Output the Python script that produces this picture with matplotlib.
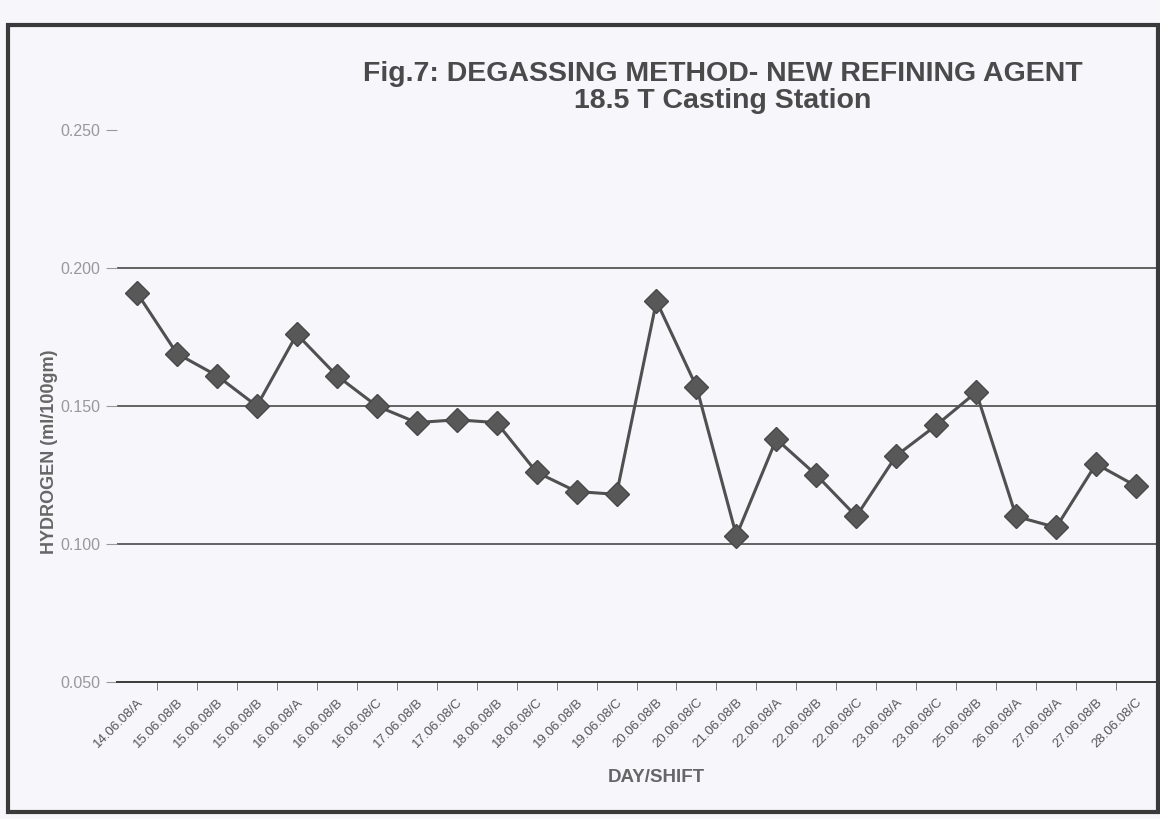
import matplotlib
matplotlib.use("Agg")
import matplotlib.pyplot as plt
from matplotlib.patches import Rectangle
from matplotlib.ticker import FixedLocator

plt.rcParams['font.family'] = ['Liberation Sans', 'DejaVu Sans']

categories = ["14.06.08/A", "15.06.08/B", "15.06.08/B", "15.06.08/B", "16.06.08/A",
              "16.06.08/B", "16.06.08/C", "17.06.08/B", "17.06.08/C", "18.06.08/B",
              "18.06.08/C", "19.06.08/B", "19.06.08/C", "20.06.08/B", "20.06.08/C",
              "21.06.08/B", "22.06.08/A", "22.06.08/B", "22.06.08/C", "23.06.08/A",
              "23.06.08/C", "25.06.08/B", "26.06.08/A", "27.06.08/A", "27.06.08/B",
              "28.06.08/C"]
hydrogen = [0.191, 0.169, 0.161, 0.150, 0.176, 0.161, 0.150, 0.144, 0.145, 0.144,
            0.126, 0.119, 0.118, 0.188, 0.157, 0.103, 0.138, 0.125, 0.110, 0.132,
            0.143, 0.155, 0.110, 0.106, 0.129, 0.121]
yticks = [0.05, 0.10, 0.15, 0.20, 0.25]
ytick_labels = ["0.050", "0.100", "0.150", "0.200", "0.250"]
grid_values = [0.10, 0.15, 0.20]

bg = '#f6f6fb'
fig = plt.figure(figsize=(11.6, 8.19), dpi=100, facecolor=bg)

# outer frame
fig.patches.append(Rectangle((8 / 1160, 1 - 812 / 819), 1150 / 1160, 787 / 819,
                             transform=fig.transFigure, fill=False,
                             edgecolor='#3a3a3a', linewidth=3))

ax = fig.add_axes([117 / 1160, 1 - 682 / 819, (1156 - 117) / 1160, (682 - 130) / 819])
ax.set_facecolor(bg)
x = list(range(len(categories)))
ax.plot(x, hydrogen, color='#505050', linewidth=2.2, marker='D', markersize=12,
        markerfacecolor='#585858', markeredgecolor='#484848', zorder=3)

ax.set_xlim(-0.5, len(categories) - 0.5)
ax.set_ylim(0.05, 0.25)
for g in grid_values:
    ax.axhline(g, color='#4a4a4a', linewidth=1.2, zorder=1)

for s in ['top', 'right', 'left']:
    ax.spines[s].set_visible(False)
ax.spines['bottom'].set_color('#3a3a3a')
ax.spines['bottom'].set_linewidth(1.4)

ax.set_yticks(yticks)
ax.set_yticklabels(ytick_labels, fontsize=11.5, color='#999999')
ax.tick_params(axis='y', length=8, color='#999999', pad=4)

ax.set_xticks(x)
ax.set_xticklabels(categories, rotation=45, ha='right', rotation_mode='anchor',
                   fontsize=9.5, color='#555555')
ax.tick_params(axis='x', which='major', length=0, pad=10)
ax.xaxis.set_minor_locator(FixedLocator([i + 0.5 for i in range(len(categories) - 1)]))
ax.tick_params(axis='x', which='minor', length=6, color='#666666', direction='out')

fig.text(723 / 1160, 1 - 74 / 819, "Fig.7: DEGASSING METHOD- NEW REFINING AGENT",
         ha='center', va='center', fontsize=20.5, fontweight='bold', color='#4a4a4a')
fig.text(723 / 1160, 1 - 101 / 819, "18.5 T Casting Station",
         ha='center', va='center', fontsize=20.5, fontweight='bold', color='#4a4a4a')
fig.text(50 / 1160, 1 - 452 / 819, "HYDROGEN (ml/100gm)", rotation=90,
         ha='center', va='center', fontsize=13, fontweight='bold', color='#666666')
fig.text(656 / 1160, 1 - 778 / 819, "DAY/SHIFT", ha='center', va='center',
         fontsize=13.5, fontweight='bold', color='#666666')

fig.savefig("out.png", dpi=100, facecolor=bg)
